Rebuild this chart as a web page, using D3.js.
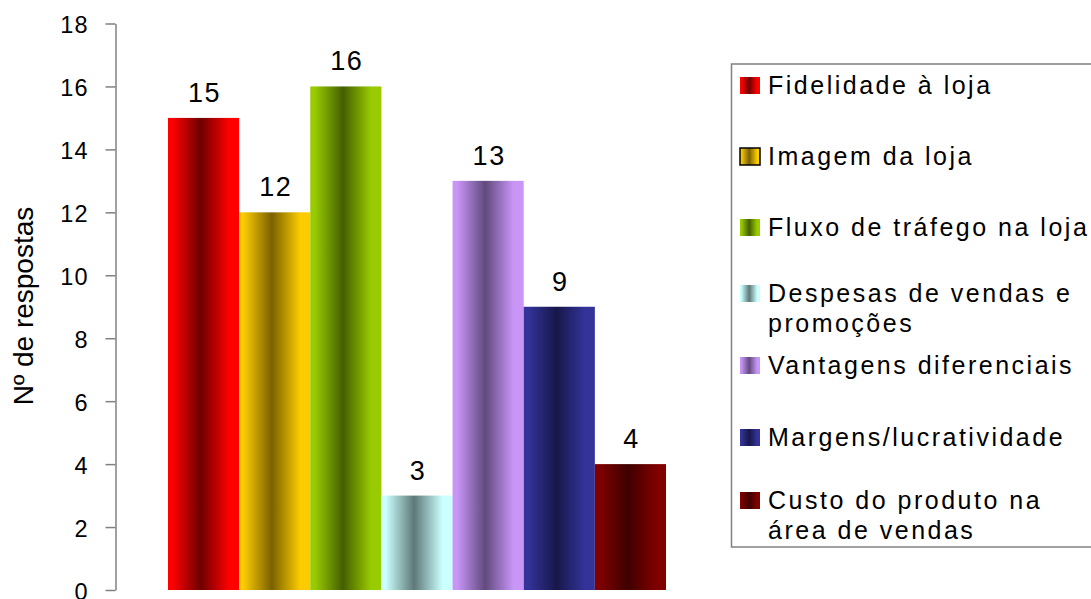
<!DOCTYPE html>
<html>
<head>
<meta charset="utf-8">
<script src="https://cdn.jsdelivr.net/npm/d3@7"></script>
<style>
  body { margin: 0; background: #fff; }
  svg { display: block; font-family: "Liberation Sans", Arial, sans-serif; }
</style>
</head>
<body>
<svg id="chart" width="1091" height="599"></svg>
<script>
// series shown as bars, left to right
const series = [
  "Fidelidade à loja",
  "Imagem da loja",
  "Fluxo de tráfego na loja",
  "Despesas de vendas e promoções",
  "Vantagens diferenciais",
  "Margens/lucratividade",
  "Custo do produto na área de vendas"
];
const values = [15, 12, 16, 3, 13, 9, 4];
const yTicks = [0, 2, 4, 6, 8, 10, 12, 14, 16, 18];
const yTitle = "Nº de respostas";

// legend text broken in lines like the original
const legendLines = [
  ["Fidelidade à loja"],
  ["Imagem da loja"],
  ["Fluxo de tráfego na loja"],
  ["Despesas de vendas e", "promoções"],
  ["Vantagens diferenciais"],
  ["Margens/lucratividade"],
  ["Custo do produto na", "área de vendas"]
];

// light edge / dark centre colours of each bar gradient
const lightColors = ["#ff0000", "#fccc00", "#99cc00", "#ccffff", "#c996f8", "#333399", "#800000"];
const darkColors  = ["#6e0000", "#7a6100", "#445e00", "#5e7878", "#614a7d", "#17174a", "#3f0000"];

const svg = d3.select("#chart");

const y = d3.scaleLinear().domain([0, 18]).range([590, 23.5]);
const x = d3.scaleBand().domain(series).range([168, 666]).padding(0);

// gradients
const defs = svg.append("defs");
series.forEach((s, i) => {
  const g = defs.append("linearGradient")
    .attr("id", "grad" + i)
    .attr("x1", "0%").attr("x2", "100%")
    .attr("y1", "0%").attr("y2", "0%");
  const stops = [
    [0, lightColors[i]],
    [0.06, lightColors[i]],
    [0.46, darkColors[i]],
    [0.86, lightColors[i]],
    [1, lightColors[i]]
  ];
  stops.forEach(st => g.append("stop").attr("offset", st[0]).attr("stop-color", st[1]));
});

// bars
svg.append("g")
  .selectAll("rect")
  .data(series)
  .enter()
  .append("rect")
  .attr("x", d => x(d))
  .attr("width", x.bandwidth())
  .attr("y", (d, i) => y(values[i]))
  .attr("height", (d, i) => y(0) - y(values[i]))
  .attr("fill", (d, i) => "url(#grad" + i + ")");

// value labels
svg.append("g")
  .selectAll("text")
  .data(series)
  .enter()
  .append("text")
  .attr("x", d => x(d) + x.bandwidth() / 2 + 1)
  .attr("y", (d, i) => y(values[i]) - 16)
  .attr("text-anchor", "middle")
  .style("font-size", "27px")
  .style("letter-spacing", "1.5px")
  .attr("fill", "#000")
  .text((d, i) => values[i]);

// y axis
const axis = svg.append("g")
  .attr("transform", "translate(115.5,0)")
  .call(d3.axisLeft(y).tickValues(yTicks).tickSize(10).tickSizeOuter(0).tickPadding(17));
axis.select(".domain").attr("stroke", "#808080").attr("stroke-width", 1.5);
axis.selectAll(".tick line").attr("stroke", "#808080").attr("stroke-width", 1.5);
axis.selectAll(".tick text")
  .attr("fill", "#000")
  .attr("dy", "0.4em")
  .style("font-size", "23.5px")
  .style("letter-spacing", "1px")
  .style("font-family", "'Liberation Sans', Arial, sans-serif");

// y title
svg.append("text")
  .attr("transform", "translate(33,306) rotate(-90)")
  .attr("text-anchor", "middle")
  .style("font-size", "28px")
  .attr("fill", "#000")
  .text(yTitle);

// legend
const legend = svg.append("g");
legend.append("rect")
  .attr("x", 731.5).attr("y", 64)
  .attr("width", 370).attr("height", 483)
  .attr("fill", "none")
  .attr("stroke", "#808080")
  .attr("stroke-width", 1.5);

const legendBaselines = [94, 165, 236, 302, 374, 446, 509];
const lineStep = 29.5;

legendLines.forEach((lines, i) => {
  const by = legendBaselines[i];
  legend.append("rect")
    .attr("x", 740).attr("y", by - 17)
    .attr("width", 20).attr("height", 17)
    .attr("fill", "url(#grad" + i + ")")
    .attr("stroke", i === 1 ? "#000" : "none")
    .attr("stroke-width", 1.5);
  const t = legend.append("text")
    .attr("x", 768)
    .attr("y", by)
    .style("font-size", "25px")
    .style("letter-spacing", "2.5px")
    .attr("fill", "#000");
  lines.forEach((ln, j) => {
    t.append("tspan")
      .attr("x", 768)
      .attr("y", by + j * lineStep)
      .text(ln);
  });
});
</script>
</body>
</html>
